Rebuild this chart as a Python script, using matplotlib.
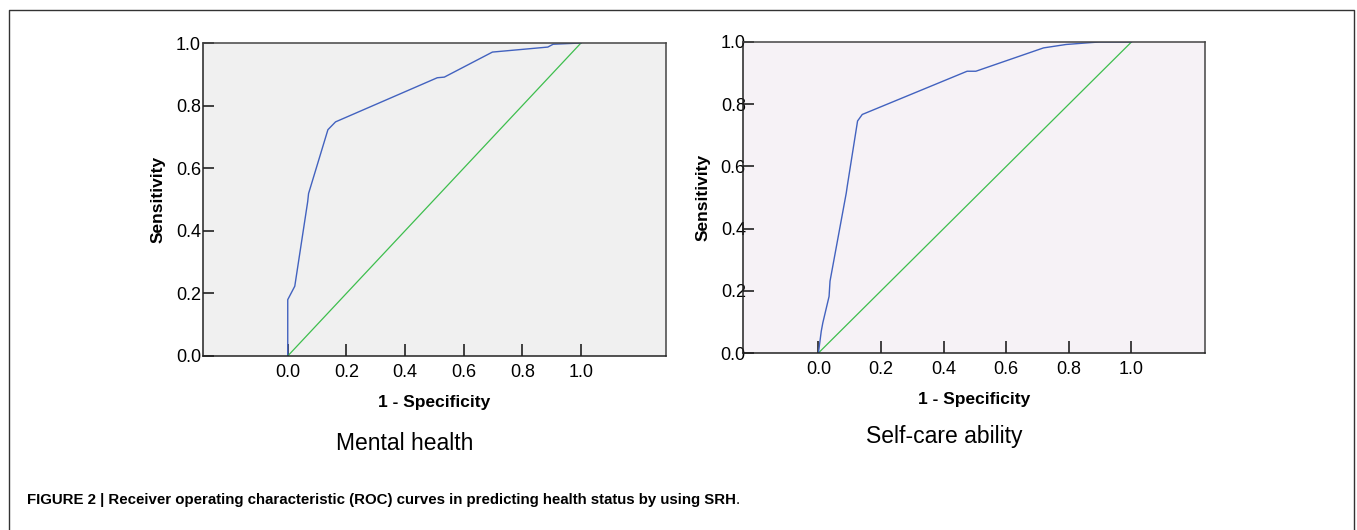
import matplotlib.pyplot as plt
from matplotlib.lines import Line2D

# ROC curve points (1 - specificity, sensitivity)
mental_fpr = [0.0, 0.0, 0.024, 0.068, 0.071, 0.137, 0.163, 0.51, 0.534, 0.698, 0.887, 0.905, 1.0]
mental_tpr = [0.0, 0.18, 0.223, 0.493, 0.519, 0.723, 0.748, 0.889, 0.891, 0.971, 0.987, 0.996, 1.0]

selfcare_fpr = [0.0, 0.009, 0.014, 0.034, 0.037, 0.089, 0.092, 0.125, 0.14, 0.475, 0.503, 0.719, 0.791, 0.869, 0.897, 1.0]
selfcare_tpr = [0.0, 0.07, 0.097, 0.182, 0.231, 0.515, 0.536, 0.746, 0.767, 0.906, 0.906, 0.981, 0.992, 0.998, 1.0, 1.0]

ticks = [0.0, 0.2, 0.4, 0.6, 0.8, 1.0]
tick_labels = ["0.0", "0.2", "0.4", "0.6", "0.8", "1.0"]
titles = ["Mental health", "Self-care ability"]
caption_bold = "FIGURE 2 | Receiver operating characteristic (ROC) curves in predicting health status by using SRH"

plt.rcParams['font.family'] = ['Liberation Sans', 'DejaVu Sans']

W, H = 1357, 530
fig = plt.figure(figsize=(W / 100, H / 100), dpi=100)
fig.patch.set_facecolor('white')


def px_rect(x0, y0, x1, y1):
    return [x0 / W, 1 - y1 / H, (x1 - x0) / W, (y1 - y0) / H]


def roc_panel(rect, fpr, tpr, xlim, bg, ypad, ylab_x):
    ax = fig.add_axes(rect)
    ax.set_facecolor(bg)
    ax.plot([0, 1], [0, 1], color='#3DBE4D', lw=0.9)
    ax.plot(fpr, tpr, color='#4262BF', lw=1.0)
    ax.set_xlim(*xlim)
    ax.set_ylim(0, 1)
    ax.set_xticks(ticks)
    ax.set_xticklabels(tick_labels)
    ax.set_yticks(ticks)
    ax.set_yticklabels(tick_labels)
    ax.tick_params(axis='x', direction='in', length=9, width=1.2, color='#222222',
                   labelsize=13, pad=6)
    ax.tick_params(axis='y', direction='in', length=8, width=1.2, color='#222222',
                   labelsize=13, pad=ypad)
    for s in ax.spines.values():
        s.set_color('#444444')
        s.set_linewidth(1.1)
    ax.spines['left'].set_color('#222222')
    ax.spines['bottom'].set_color('#222222')
    ax.set_xlabel("1 - Specificity", fontsize=12.5, fontweight='bold')
    ax.xaxis.set_label_coords(0.5, -0.15)
    ax.xaxis.label.set_va('center')
    ax.set_ylabel("Sensitivity", fontsize=12.5, fontweight='bold')
    ax.yaxis.set_label_coords(ylab_x, 0.5)
    ax.yaxis.label.set_va('center')
    return ax


roc_panel(px_rect(203, 43, 666, 356), mental_fpr, mental_tpr, (-0.289, 1.29), '#F0F0F0', 1.5, -0.097)
roc_panel(px_rect(743, 42, 1205, 353), selfcare_fpr, selfcare_tpr, (-0.241, 1.235), '#F6F2F6', -2, -0.087)

fig.text(405 / W, 1 - 444 / H, titles[0], fontsize=16.5, ha='center', va='center')
fig.text(944 / W, 1 - 437 / H, titles[1], fontsize=16.5, ha='center', va='center')

cap = fig.text(27 / W, 1 - 500 / H, caption_bold, fontsize=10.8, fontweight='bold',
               ha='left', va='center')
fig.canvas.draw()
bb = cap.get_window_extent()
fig.text(bb.x1 / W, 1 - 500 / H, ".", fontsize=10.8, ha='left', va='center')

# frame around the figure (open at the bottom)
fig.add_artist(Line2D([9 / W, 9 / W, 1354 / W, 1354 / W], [0, 1 - 10 / H, 1 - 10 / H, 0],
                      transform=fig.transFigure, color='#333333', lw=1.0))

fig.savefig('out.png', dpi=100)
